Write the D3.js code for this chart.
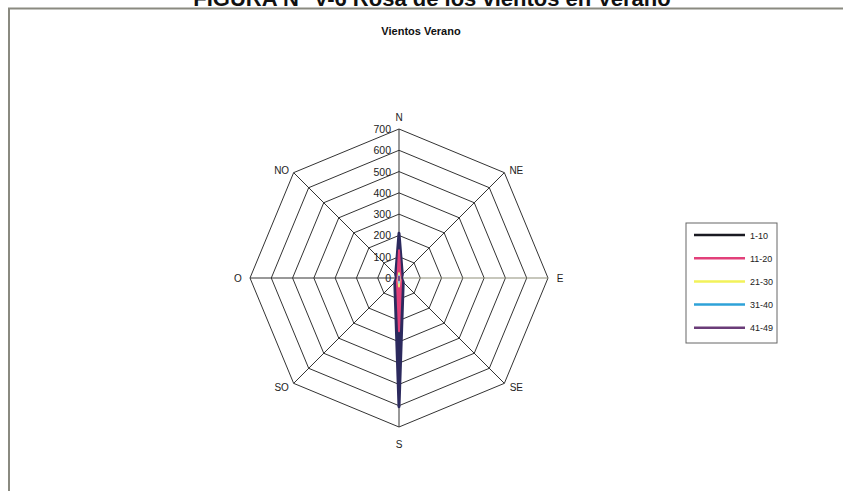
<!DOCTYPE html>
<html>
<head>
<meta charset="utf-8">
<script src="https://cdn.jsdelivr.net/npm/d3@7"></script>
<style>
    body { margin: 0; background: #fff; }
    svg text { font-family: Arial, "Liberation Sans", sans-serif; }
</style>
</head>
<body>
<svg id="chart" width="843" height="491"></svg>
<script>
// directions, clockwise from north
const directions = ["N", "NE", "E", "SE", "S", "SO", "O", "NO"];
const ticks = [0, 100, 200, 300, 400, 500, 600, 700];
const seriesNames = ["1-10", "11-20", "21-30", "31-40", "41-49"];

// frequencies per direction
const s1to10 = [210, 22, 12, 28, 605, 28, 12, 22];
const s11to20 = [130, 10, 6, 14, 250, 14, 6, 10];
const s21to30 = [22, 3, 2, 4, 40, 4, 2, 3];
const s31to40 = [12, 2, 1, 2, 22, 2, 1, 2];
const s41to49 = [6, 1, 1, 1, 10, 1, 1, 1];

const seriesValues = [s1to10, s11to20, s21to30, s31to40, s41to49];
const legendColors = ["#1a1a22", "#e2407a", "#f2f25a", "#2ea2d8", "#6a3c78"];
const areaColors = ["#2c2a5e", "#e2407a", "#eeee80", "#9fd8ee", "#7a4a88"];

const svg = d3.select("#chart");
const cx = 399, cy = 278;

const r = d3.scaleLinear().domain([0, 700]).range([0, 149]);
const angle = d3.scalePoint().domain(directions).range([0, 2 * Math.PI * 7 / 8]);

function pt(dir, v) {
    const a = angle(dir) - Math.PI / 2;
    return [cx + r(v) * Math.cos(a), cy + r(v) * Math.sin(a)];
}

// frame and page title (cut off at the top, as in the scan)
svg.append("text")
    .attr("x", 432).attr("y", 6)
    .attr("text-anchor", "middle")
    .attr("font-size", 22).attr("font-weight", "bold")
    .attr("fill", "#111")
    .text("FIGURA N° V-6 Rosa de los vientos en Verano");

svg.append("path")
    .attr("d", "M9,491 V8.5 H843")
    .attr("fill", "none")
    .attr("stroke", "#8a8a80")
    .attr("stroke-width", 2);

svg.append("text")
    .attr("x", 421).attr("y", 35)
    .attr("text-anchor", "middle")
    .attr("font-size", 11).attr("font-weight", "bold")
    .attr("fill", "#111")
    .text("Vientos Verano");

// grid rings
const grid = svg.append("g");
ticks.slice(1).forEach(t => {
    grid.append("polygon")
        .attr("points", directions.map(d => pt(d, t).join(",")).join(" "))
        .attr("fill", "none")
        .attr("stroke", "#333")
        .attr("stroke-width", 1);
});

// spokes
directions.forEach(d => {
    const [x, y] = pt(d, 700);
    grid.append("line")
        .attr("x1", cx).attr("y1", cy)
        .attr("x2", x).attr("y2", y)
        .attr("stroke", d === "E" ? "#8f8f78" : "#333")
        .attr("stroke-width", 1);
});

// tick labels along the north spoke
ticks.forEach(t => {
    svg.append("text")
        .attr("x", cx - 8).attr("y", cy - r(t) + 4)
        .attr("text-anchor", "end")
        .attr("font-size", 10.5)
        .attr("fill", "#222")
        .text(t);
});

// direction labels: pushed out sideways, a bit more below than above
directions.forEach(d => {
    const a = angle(d) - Math.PI / 2;
    const [x, y] = pt(d, 700);
    const sx = Math.round(Math.cos(a) * 2) / 2, sy = Math.round(Math.sin(a) * 2) / 2;
    const dx = Math.sign(sx) * 12;
    let dy = 0;
    if (sx === 0) dy = sy < 0 ? -12 : 17;
    else if (sy !== 0) dy = sy < 0 ? -3 : 4;
    svg.append("text")
        .attr("x", x + dx).attr("y", y + dy + 4)
        .attr("text-anchor", "middle")
        .attr("font-size", 10)
        .attr("fill", "#222")
        .text(d);
});

// series, largest first
const line = d3.line().curve(d3.curveLinearClosed);
seriesValues.forEach((vals, i) => {
    svg.append("path")
        .attr("d", line(directions.map((d, j) => pt(d, vals[j]))))
        .attr("fill", areaColors[i])
        .attr("stroke", areaColors[i])
        .attr("stroke-width", i === 0 ? 3 : 2)
        .attr("stroke-linejoin", "round");
});

// legend
const lg = svg.append("g").attr("transform", "translate(686,223)");
lg.append("rect")
    .attr("width", 91).attr("height", 120)
    .attr("fill", "#fff")
    .attr("stroke", "#666")
    .attr("stroke-width", 1);

seriesNames.forEach((name, i) => {
    const y = 12 + i * 23.2;
    lg.append("line")
        .attr("x1", 8).attr("x2", 59)
        .attr("y1", y).attr("y2", y)
        .attr("stroke", legendColors[i])
        .attr("stroke-width", 2.5);
    lg.append("text")
        .attr("x", 64).attr("y", y + 3.5)
        .attr("font-size", 9)
        .attr("fill", "#222")
        .text(name);
});
</script>
</body>
</html>
